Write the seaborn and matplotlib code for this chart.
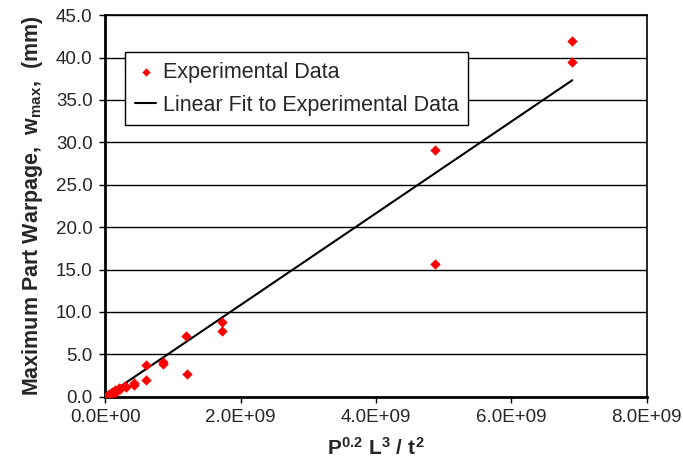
import numpy as np
import pandas as pd
import seaborn as sns
import matplotlib.pyplot as plt
from matplotlib.ticker import FuncFormatter, MultipleLocator

x_vals = [0.02e9, 0.03e9, 0.05e9, 0.06e9, 0.10e9, 0.11e9, 0.15e9, 0.16e9,
          0.20e9, 0.22e9, 0.30e9, 0.31e9, 0.42e9, 0.43e9, 0.60e9, 0.61e9,
          0.85e9, 0.86e9, 1.20e9, 1.21e9, 1.72e9, 1.72e9, 4.87e9, 4.87e9,
          6.90e9, 6.90e9]
w_max = [0.1, 0.05, 0.3, 0.2, 0.6, 0.4, 0.8, 0.6,
         1.0, 0.9, 1.3, 1.1, 1.6, 1.4, 3.8, 2.0,
         4.1, 3.9, 7.2, 2.7, 8.8, 7.7, 29.1, 15.7,
         42.0, 39.5]

# Linear fit
fit_slope = 5.41e-9
fit_intercept = 0.0

df = pd.DataFrame({'x': x_vals, 'w': w_max})
fit_x = np.array([0.0, max(x_vals)])
fit_df = pd.DataFrame({'x': fit_x, 'w': fit_slope * fit_x + fit_intercept})

sns.set_theme(style="white")
plt.rcParams['font.family'] = ['Liberation Sans', 'DejaVu Sans']
plt.rcParams['mathtext.fontset'] = 'custom'
plt.rcParams['mathtext.rm'] = 'Liberation Sans:bold'
plt.rcParams['mathtext.bf'] = 'Liberation Sans:bold'
plt.rcParams['mathtext.it'] = 'Liberation Sans:bold'

fig, ax = plt.subplots(figsize=(6.83, 4.74), dpi=100)
fig.subplots_adjust(left=0.154, right=0.947, top=0.968, bottom=0.163)

sns.scatterplot(data=df, x='x', y='w', marker='D', color='red', s=28,
                edgecolor='red', linewidth=0, ax=ax, label='Experimental Data',
                zorder=3)
sns.lineplot(data=fit_df, x='x', y='w', color='black', linewidth=1.5, ax=ax,
             label='Linear Fit to Experimental Data', zorder=2)

ax.set_xlim(0, 8e9)
ax.set_ylim(0, 45)
ax.xaxis.set_major_locator(MultipleLocator(2e9))
ax.yaxis.set_major_locator(MultipleLocator(5))
ax.xaxis.set_major_formatter(FuncFormatter(lambda v, p: f"{v:.1E}"))
ax.yaxis.set_major_formatter(FuncFormatter(lambda v, p: f"{v:.1f}"))
ax.grid(axis='y', color='black', linewidth=1)
ax.set_axisbelow(True)
ax.tick_params(axis='both', direction='out', length=4, width=1, color='black',
               labelsize=13.5, bottom=True, left=True, pad=5)

for sp in ax.spines.values():
    sp.set_color('black')
    sp.set_linewidth(1.2)
ax.spines['left'].set_linewidth(2)
ax.spines['bottom'].set_linewidth(2)

ax.set_xlabel(r"$\mathbf{P^{0.2}\ L^{3}\ /\ t^{2}}$", fontsize=15, labelpad=8)
ax.set_ylabel(r"Maximum Part Warpage,  w$_{\mathbf{max}}$,  (mm)",
              fontsize=15.5, fontweight='bold', labelpad=8)

leg = ax.legend(loc='upper left', bbox_to_anchor=(0.037, 0.903), fontsize=15.5,
                frameon=True, fancybox=False, edgecolor='black',
                framealpha=1, borderpad=0.45, labelspacing=0.55,
                handlelength=1.0, handletextpad=0.3, borderaxespad=0,
                markerscale=0.8)
leg.get_frame().set_linewidth(1)

plt.savefig('out.png', dpi=100)
